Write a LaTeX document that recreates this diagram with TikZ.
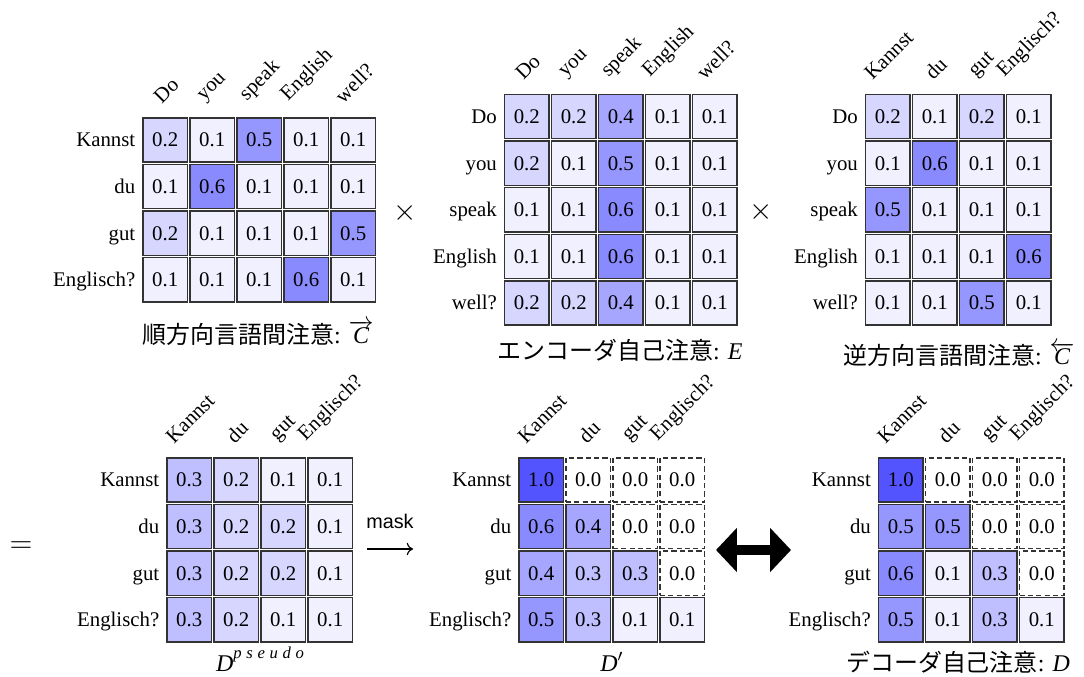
\documentclass[tikz,border=0pt]{standalone}
\usepackage{fontspec}
\setmainfont{Liberation Serif}
\newfontfamily\cjk{Noto Sans CJK JP}
\newfontfamily\labelsans{Liberation Sans}
\usetikzlibrary{arrows.meta}

% attention weight shades
\colorlet{h1}{blue!6!white}
\colorlet{h2}{blue!16!white}
\colorlet{h3}{blue!25!white}
\colorlet{h4}{blue!35!white}
\colorlet{h5}{blue!41!white}
\colorlet{h6}{blue!46!white}
\colorlet{h10}{blue!67!white}

\tikzset{
  cell/.style={draw=black!80, line width=0.6pt, minimum width=21.4pt,
    minimum height=21.2pt, inner sep=0pt, text height=6.6pt, text depth=0pt},
  maskedcell/.style={cell, fill=white, dash pattern=on 2.5pt off 1.5pt},
  rowlab/.style={anchor=east, inner sep=0pt, text height=6.6pt, text depth=0pt},
  collab/.style={anchor=south, inner sep=0pt},
  captext/.style={anchor=base, inner sep=0pt, font=\fontsize{11.5}{14}\selectfont},
  optext/.style={inner sep=0pt},
}

% #1 name, #2 left, #3 top, #4 row words, #5 column words, #6 weights (0.0 = masked)
\newcommand{\attnmap}[6]{%
  \foreach \rl [count=\i] in {#4} {
    \node[rowlab] (#1-r\i) at ({#2-6}, {#3+(\i-0.5)*46.6}) {\rl};
  }
  \foreach \cl [count=\j] in {#5} {
    \node[collab] (#1-c\j) at ({#2+(\j-0.5)*47+1}, {#3-12}) {\rotatebox{45}{\cl}};
  }
  \foreach \row [count=\i] in {#6} {
    \foreach \v [count=\j] in \row {
      \pgfmathtruncatemacro\k{round(\v*10)}
      \ifnum\k=0
        \node[maskedcell] (#1-\i-\j) at ({#2+(\j-0.5)*47}, {#3+(\i-0.5)*46.6}) {\v};
      \else
        \node[cell, fill=h\k] (#1-\i-\j) at ({#2+(\j-0.5)*47}, {#3+(\i-0.5)*46.6}) {\v};
      \fi
    }
  }
}

\begin{document}
\begin{tikzpicture}[x=0.48pt, y=-0.48pt]
\path[use as bounding box] (0,0) rectangle (1084,677);

% forward cross-lingual attention
\attnmap{fwd}{141.7}{116.7}{Kannst,du,gut,Englisch?}{Do,you,speak,English,well?}
  {{0.2,0.1,0.5,0.1,0.1},{0.1,0.6,0.1,0.1,0.1},{0.2,0.1,0.1,0.1,0.5},{0.1,0.1,0.1,0.6,0.1}}
\node[captext] (capfwd) at (258,343) {{\cjk 順方向言語間注意}: $\overrightarrow{\textit{C}}$};

% encoder self-attention
\attnmap{enc}{503.3}{93.3}{Do,you,speak,English,well?}{Do,you,speak,English,well?}
  {{0.2,0.2,0.4,0.1,0.1},{0.2,0.1,0.5,0.1,0.1},{0.1,0.1,0.6,0.1,0.1},{0.1,0.1,0.6,0.1,0.1},{0.2,0.2,0.4,0.1,0.1}}
\node[captext] (capenc) at (620,360) {{\cjk エンコーダ自己注意}: \textit{E}};

% backward cross-lingual attention
\attnmap{bwd}{864.3}{93.3}{Do,you,speak,English,well?}{Kannst,du,gut,Englisch?}
  {{0.2,0.1,0.2,0.1},{0.1,0.6,0.1,0.1},{0.5,0.1,0.1,0.1},{0.1,0.1,0.1,0.6},{0.1,0.1,0.5,0.1}}
\node[captext] (capbwd) at (959,365) {{\cjk 逆方向言語間注意}: $\overleftarrow{\textit{C}}$};

% pseudo decoder attention
\attnmap{pse}{165.7}{456.7}{Kannst,du,gut,Englisch?}{Kannst,du,gut,Englisch?}
  {{0.3,0.2,0.1,0.1},{0.3,0.2,0.2,0.1},{0.3,0.2,0.2,0.1},{0.3,0.2,0.1,0.1}}
\node[captext] (cappse) at (260,671) {\textit{D}\raisebox{1.1ex}{\fontsize{8}{9}\selectfont\itshape\addfontfeature{LetterSpace=28}pseudo}};

% masked pseudo attention
\attnmap{msk}{517.7}{456.7}{Kannst,du,gut,Englisch?}{Kannst,du,gut,Englisch?}
  {{1.0,0.0,0.0,0.0},{0.6,0.4,0.0,0.0},{0.4,0.3,0.3,0.0},{0.5,0.3,0.1,0.1}}
\node[captext] (capmsk) at (612,671) {\textit{D}$'$};

% decoder self-attention
\attnmap{dec}{877.3}{456.7}{Kannst,du,gut,Englisch?}{Kannst,du,gut,Englisch?}
  {{1.0,0.0,0.0,0.0},{0.5,0.5,0.0,0.0},{0.6,0.1,0.3,0.0},{0.5,0.1,0.3,0.1}}
\node[captext] (capdec) at (958,671) {{\cjk デコーダ自己注意}: \textit{D}};

% operators
\node[optext, font=\fontsize{15}{17}\selectfont] (times1) at (405,213) {$\times$};
\node[optext, font=\fontsize{15}{17}\selectfont] (times2) at (761,212) {$\times$};
\node[optext, font=\fontsize{14}{16}\selectfont] (equals) at (21,547) {$=$};

% masking step
\node[optext, font=\labelsans\fontsize{9.5}{11}\selectfont] (masklab) at (390,521) {mask};
\coordinate (maskL) at (367,549);
\coordinate (maskR) at (413,549);
\draw[line width=0.55pt, -{To[length=3pt,width=6pt]}] (maskL) -- (maskR);

% comparison arrow
\coordinate (swapL) at (716,550);
\coordinate (swapR) at (791,550);
\draw[line width=4.8pt, {Triangle[length=10pt,width=20.6pt]}-{Triangle[length=10pt,width=20.6pt]}] (swapL) -- (swapR);
\end{tikzpicture}
\end{document}
